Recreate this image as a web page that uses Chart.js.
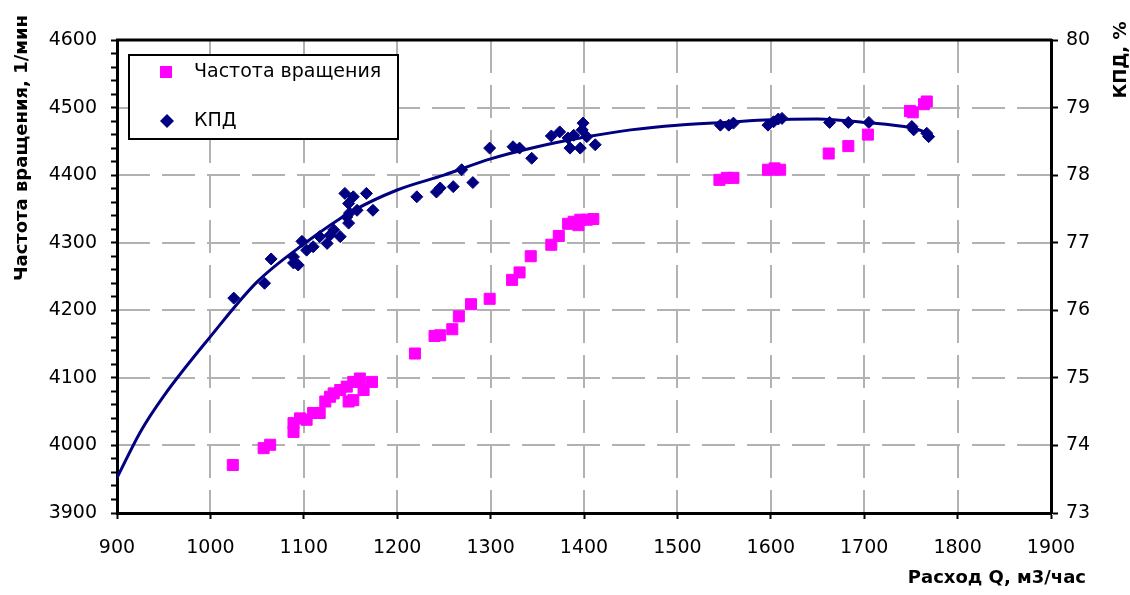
<!DOCTYPE html>
<html>
<head>
<meta charset="utf-8">
<script src="https://cdn.jsdelivr.net/npm/chart.js@4/dist/chart.umd.min.js"></script>
<style>
  body { margin: 0; background: #fff; }
  #wrap { position: relative; width: 1130px; height: 595px; }
  #grid { position: absolute; left: 0; top: 0; width: 1130px; height: 595px; z-index: 0; }
  #chart { position: relative; z-index: 1; }
  .vline {
    position: absolute; width: 2px;
    background: repeating-linear-gradient(to bottom, #b2b2b2 0 33px, transparent 33px 45px);
  }
  .hline {
    position: absolute; height: 2px;
    background: repeating-linear-gradient(to right, #b2b2b2 0 33px, transparent 33px 45px);
  }
</style>
</head>
<body>
<div id="wrap">
  <div id="grid"></div>
  <canvas id="chart" width="1130" height="595"></canvas>
</div>
<script>
// Частота вращения (left axis)
const rpmQ = [1024, 1057, 1064, 1089, 1089, 1096, 1103, 1110, 1117, 1123, 1128, 1132, 1139, 1146, 1148, 1153, 1153, 1160, 1164, 1173,
  1219, 1240, 1246, 1259, 1266, 1279, 1299, 1323, 1331, 1343, 1365, 1373, 1383, 1389, 1394, 1396, 1403, 1410,
  1545, 1553, 1560, 1597, 1604, 1610, 1662, 1683, 1704, 1749, 1752, 1764, 1767];
const rpmVal = [3971, 3996, 4001, 4020, 4033, 4040, 4038, 4048, 4048, 4065, 4072, 4077, 4082, 4087, 4065, 4067, 4094, 4099, 4082, 4094,
  4136, 4162, 4163, 4172, 4191, 4209, 4217, 4245, 4256, 4280, 4297, 4310, 4328, 4331, 4326, 4334, 4334, 4335,
  4393, 4396, 4396, 4408, 4410, 4408, 4432, 4443, 4460, 4495, 4493, 4505, 4509];

// КПД (right axis)
const effQ = [1025, 1058, 1065, 1089, 1094, 1089, 1098, 1103, 1110, 1117, 1125, 1128, 1132, 1139, 1144, 1148, 1149, 1153, 1157, 1146, 1167, 1174, 1148,
  1221, 1242, 1246, 1260, 1269, 1281, 1299, 1324, 1331, 1344, 1365, 1374, 1383, 1385, 1389, 1396, 1399, 1398, 1403, 1412,
  1546, 1555, 1560, 1597, 1603, 1608, 1612, 1663, 1683, 1705, 1751, 1753, 1767, 1769];
const effVal = [76.18, 76.40, 76.76, 76.70, 76.67, 76.79, 77.02, 76.89, 76.94, 77.09, 76.99, 77.11, 77.19, 77.09, 77.73, 77.58, 77.44, 77.68, 77.48, 77.38, 77.73, 77.48, 77.29,
  77.68, 77.75, 77.81, 77.83, 78.08, 77.89, 78.40, 78.42, 78.40, 78.25, 78.58, 78.64, 78.55, 78.40, 78.59, 78.40, 78.77, 78.67, 78.57, 78.45,
  78.74, 78.74, 78.77, 78.74, 78.79, 78.83, 78.84, 78.78, 78.78, 78.78, 78.72, 78.67, 78.62, 78.57];

// trend line of КПД
const trendQ = [900, 925, 950, 1000, 1050, 1100, 1150, 1200, 1250, 1300, 1350, 1400, 1450, 1500, 1550, 1600, 1650, 1700, 1750, 1770];
const trendVal = [73.52, 74.20, 74.73, 75.61, 76.42, 76.98, 77.45, 77.78, 78.00, 78.24, 78.42, 78.56, 78.67, 78.74, 78.78, 78.82, 78.83, 78.78, 78.70, 78.62];

// grid positions
const gridQ = [1000, 1100, 1200, 1300, 1400, 1500, 1600, 1700, 1800];
const gridRpm = [4000, 4100, 4200, 4300, 4400, 4500];

const xTitle = "Расход Q, м3/час";
const yTitle = "Частота вращения, 1/мин";
const y2Title = "КПД, %";

const PINK = "#ff00ff";
const NAVY = "#000080";

const toPoints = (xs, ys) => xs.map((x, i) => ({ x: x, y: ys[i] }));

// titles, legend box and top frame line
const extras = {
  id: "extras",
  afterDraw(chart) {
    const { ctx, chartArea: a } = chart;
    ctx.save();
    ctx.strokeStyle = "#000";
    ctx.lineWidth = 3;
    ctx.beginPath();
    ctx.moveTo(a.left - 1, a.top);
    ctx.lineTo(a.right + 1, a.top);
    ctx.stroke();

    ctx.fillStyle = "#000";
    ctx.font = 'bold 18px "DejaVu Sans"';
    ctx.textBaseline = "middle";
    ctx.textAlign = "center";
    ctx.save();
    ctx.translate(22, 148);
    ctx.rotate(-Math.PI / 2);
    ctx.fillText(yTitle, 0, 0);
    ctx.restore();
    ctx.save();
    ctx.translate(1121, 60);
    ctx.rotate(-Math.PI / 2);
    ctx.fillText(y2Title, 0, 0);
    ctx.restore();
    ctx.textAlign = "right";
    ctx.fillText(xTitle, 1086, 578);

    // legend
    ctx.fillStyle = "#fff";
    ctx.fillRect(129, 55, 269, 84);
    ctx.lineWidth = 2;
    ctx.strokeRect(129, 55, 269, 84);
    const items = chart.data.datasets.filter((d) => d.label);
    items.forEach((d, i) => {
      const cy = 72 + i * 49;
      ctx.fillStyle = d.backgroundColor;
      if (d.pointStyle === "rect") {
        ctx.fillRect(160, cy - 6, 12, 12);
      } else {
        ctx.beginPath();
        ctx.moveTo(167, cy - 7);
        ctx.lineTo(174, cy);
        ctx.lineTo(167, cy + 7);
        ctx.lineTo(160, cy);
        ctx.closePath();
        ctx.fill();
      }
      ctx.fillStyle = "#000";
      ctx.font = '19px "DejaVu Sans"';
      ctx.textAlign = "left";
      ctx.fillText(d.label, 194, cy);
    });
    ctx.restore();
  },
};

const tickFont = { family: "DejaVu Sans", size: 19 };

const chart = new Chart(document.getElementById("chart"), {
  type: "scatter",
  data: {
    datasets: [
      {
        label: "Частота вращения",
        data: toPoints(rpmQ, rpmVal),
        yAxisID: "y",
        pointStyle: "rect",
        pointRadius: 7.8,
        backgroundColor: PINK,
        borderColor: PINK,
        borderWidth: 1,
      },
      {
        label: "КПД",
        data: toPoints(effQ, effVal),
        yAxisID: "y2",
        pointStyle: "rectRot",
        pointRadius: 6,
        backgroundColor: NAVY,
        borderColor: NAVY,
        borderWidth: 1,
      },
      {
        data: toPoints(trendQ, trendVal),
        yAxisID: "y2",
        showLine: true,
        cubicInterpolationMode: "monotone",
        pointRadius: 0,
        borderColor: NAVY,
        borderWidth: 3,
      },
    ],
  },
  options: {
    responsive: false,
    animation: false,
    devicePixelRatio: 1,
    layout: { padding: { top: 40, left: 0, right: 0, bottom: 0 } },
    plugins: {
      legend: { display: false },
      tooltip: { enabled: false },
    },
    scales: {
      x: {
        type: "linear",
        min: 900,
        max: 1900,
        afterFit: (scale) => { scale.height = 82; },
        ticks: {
          stepSize: 100,
          color: "#000",
          font: tickFont,
          padding: 18,
          maxRotation: 0,
          callback: (v) => String(v),
        },
        grid: { drawOnChartArea: false, tickColor: "#000", tickLength: 6, tickWidth: 2 },
        border: { color: "#000", width: 3 },
      },
      y: {
        position: "left",
        min: 3900,
        max: 4600,
        afterFit: (scale) => { scale.width = 117; },
        ticks: {
          stepSize: 20,
          autoSkip: false,
          color: "#000",
          font: tickFont,
          padding: 14,
          callback: (v) => (v % 100 === 0 ? String(v) : ""),
        },
        grid: { drawOnChartArea: false, tickColor: "#000", tickLength: 6, tickWidth: 2 },
        border: { color: "#000", width: 3 },
      },
      y2: {
        position: "right",
        min: 73,
        max: 80,
        afterFit: (scale) => { scale.width = 79; },
        ticks: { stepSize: 1, color: "#000", font: tickFont, padding: 8 },
        grid: { drawOnChartArea: false, tickColor: "#000", tickLength: 7, tickWidth: 2 },
        border: { color: "#000", width: 3 },
      },
    },
  },
  plugins: [extras],
});

// dashed grid behind the canvas, placed with the chart's own scales
const area = chart.chartArea;
const gridLayer = document.getElementById("grid");
gridQ.forEach((q) => {
  const x = Math.round(chart.scales.x.getPixelForValue(q));
  const d = document.createElement("div");
  d.className = "vline";
  d.style.left = x - 1 + "px";
  d.style.top = area.top + "px";
  d.style.height = area.bottom - area.top + "px";
  gridLayer.appendChild(d);
});
gridRpm.forEach((v) => {
  const y = Math.round(chart.scales.y.getPixelForValue(v));
  const d = document.createElement("div");
  d.className = "hline";
  d.style.top = y - 1 + "px";
  d.style.left = area.left + "px";
  d.style.width = area.right - area.left + "px";
  gridLayer.appendChild(d);
});
</script>
</body>
</html>
